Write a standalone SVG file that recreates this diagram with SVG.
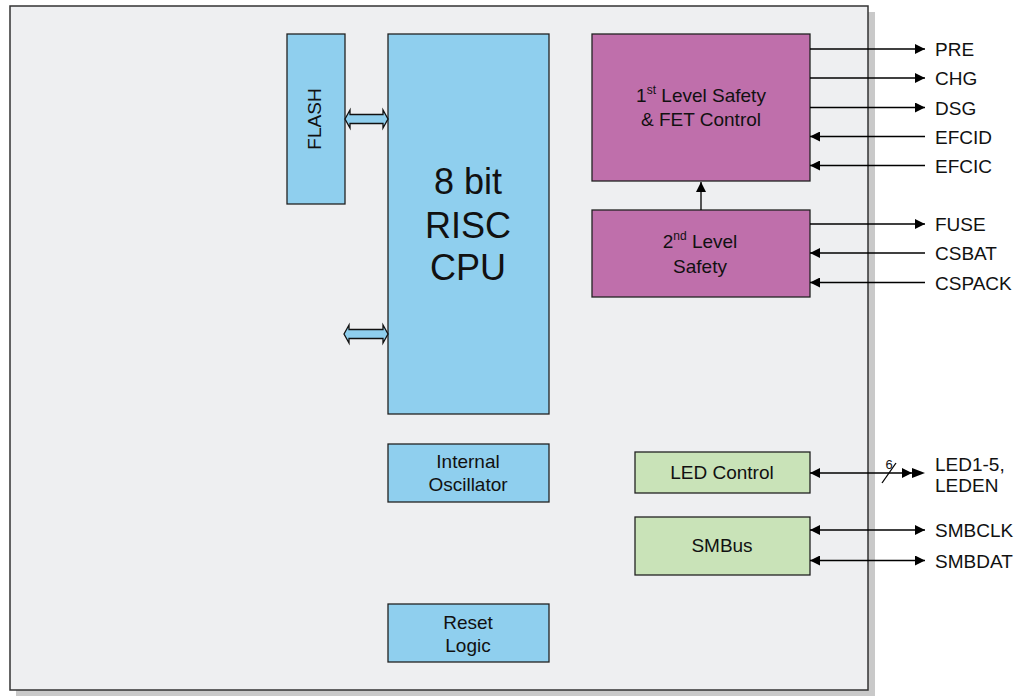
<svg xmlns="http://www.w3.org/2000/svg" width="1022" height="696" viewBox="0 0 1022 696">
<style>
text{font-family:"Liberation Sans",Arial,sans-serif;fill:#111;}
.lbl{font-size:19px;}
.box{stroke:#222;stroke-width:1.3;}
.blue{fill:#8fcfee;}
.mag{fill:#bf6fab;}
.grn{fill:#c9e3b8;}
.c{text-anchor:middle;}
.ln{stroke:#000;stroke-width:1.3;fill:none;}
.bus{fill:#8fcfee;stroke:#111;stroke-width:1.3;}
</style>
<defs>
<marker id="ah" viewBox="0 0 10 10" refX="10" refY="5" markerWidth="15" markerHeight="10" markerUnits="userSpaceOnUse" orient="auto-start-reverse">
<path d="M0,0 L10,5 L0,10 Z" fill="#000"/>
</marker>
</defs>
<rect x="16" y="12" width="859" height="684" fill="#c9c9c9"/>
<rect x="10" y="6" width="858" height="684" fill="#eeeff1" stroke="#333" stroke-width="1.5"/>
<g id="flash"><rect class="box blue" x="287" y="34" width="58" height="170"/><text class="lbl c" transform="translate(321,119) rotate(-90)">FLASH</text></g>
<g id="cpu"><rect class="box blue" x="388" y="34" width="161" height="380"/>
<text class="c" font-size="36" x="468" y="194">8 bit</text>
<text class="c" font-size="36" x="468" y="238">RISC</text>
<text class="c" font-size="36" x="468" y="280">CPU</text></g>
<g id="osc"><rect class="box blue" x="388" y="444" width="161" height="58"/>
<text class="lbl c" x="468" y="467.5">Internal</text><text class="lbl c" x="468" y="491">Oscillator</text></g>
<g id="reset"><rect class="box blue" x="388" y="604" width="161" height="58"/>
<text class="lbl c" x="468" y="629">Reset</text><text class="lbl c" x="468" y="652">Logic</text></g>
<g id="safety1"><rect class="box mag" x="592" y="34" width="218" height="147"/>
<text class="lbl c" x="701" y="102">1<tspan font-size="12" dy="-8">st</tspan><tspan dy="8"> Level Safety</tspan></text>
<text class="lbl c" x="701" y="126">&amp; FET Control</text></g>
<g id="safety2"><rect class="box mag" x="592" y="210" width="218" height="87"/>
<text class="lbl c" x="700" y="248">2<tspan font-size="12" dy="-8">nd</tspan><tspan dy="8"> Level</tspan></text>
<text class="lbl c" x="700" y="273">Safety</text></g>
<g id="led"><rect class="box grn" x="635" y="452" width="175" height="41"/>
<text class="lbl c" x="722" y="479">LED Control</text></g>
<g id="smbus"><rect class="box grn" x="635" y="517" width="175" height="58"/>
<text class="lbl c" x="722" y="552">SMBus</text></g>
<g id="connectors">
<polygon class="bus" points="345,119 350,110 350,114.5 383,114.5 383,110 388,119 383,128 383,123.5 350,123.5 350,128"/>
<polygon class="bus" points="344,334 349,325 349,329.5 383,329.5 383,325 388,334 383,343 383,338.5 349,338.5 349,343"/>
<line class="ln" x1="701" y1="210" x2="701" y2="182" marker-end="url(#ah)"/>
<line class="ln" x1="810" y1="49" x2="925" y2="49" marker-end="url(#ah)"/>
<line class="ln" x1="810" y1="78" x2="925" y2="78" marker-end="url(#ah)"/>
<line class="ln" x1="810" y1="107.5" x2="925" y2="107.5" marker-end="url(#ah)"/>
<line class="ln" x1="925" y1="136.5" x2="810" y2="136.5" marker-end="url(#ah)"/>
<line class="ln" x1="925" y1="165.5" x2="810" y2="165.5" marker-end="url(#ah)"/>
<line class="ln" x1="810" y1="224" x2="925" y2="224" marker-end="url(#ah)"/>
<line class="ln" x1="925" y1="253" x2="810" y2="253" marker-end="url(#ah)"/>
<line class="ln" x1="925" y1="282.5" x2="810" y2="282.5" marker-end="url(#ah)"/>
<line class="ln" x1="810" y1="473" x2="912" y2="473" marker-start="url(#ah)" marker-end="url(#ah)"/>
<path d="M912,468 L925,473 L912,478 Z" fill="#000"/>
<line class="ln" x1="882" y1="483" x2="896" y2="463"/>
<line class="ln" x1="810" y1="530" x2="925" y2="530" marker-start="url(#ah)" marker-end="url(#ah)"/>
<line class="ln" x1="810" y1="560.5" x2="925" y2="560.5" marker-start="url(#ah)" marker-end="url(#ah)"/>
</g>
<text font-size="13" x="889" y="469" class="c">6</text>
<g>
<text class="lbl" x="935" y="56">PRE</text>
<text class="lbl" x="935" y="85">CHG</text>
<text class="lbl" x="935" y="114.5">DSG</text>
<text class="lbl" x="935" y="143.5">EFCID</text>
<text class="lbl" x="935" y="172.5">EFCIC</text>
<text class="lbl" x="935" y="231">FUSE</text>
<text class="lbl" x="935" y="260">CSBAT</text>
<text class="lbl" x="935" y="289.5">CSPACK</text>
<text class="lbl" x="935" y="471">LED1-5,</text>
<text class="lbl" x="935" y="492">LEDEN</text>
<text class="lbl" x="935" y="537">SMBCLK</text>
<text class="lbl" x="935" y="567.5">SMBDAT</text>
</g>
</svg>
